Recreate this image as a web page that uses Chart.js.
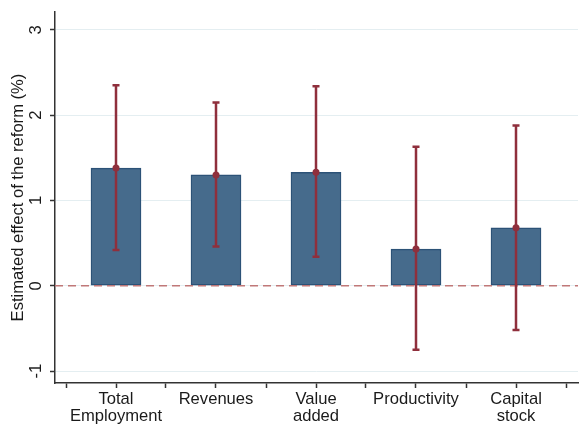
<!DOCTYPE html>
<html>
<head>
<meta charset="utf-8">
<script src="https://cdn.jsdelivr.net/npm/chart.js@4.4.0/dist/chart.umd.min.js"></script>
<style>
  html, body { margin: 0; padding: 0; background: #fff; }
  #wrap { width: 582px; height: 428px; }
</style>
</head>
<body>
<div id="wrap"><canvas id="chart" width="582" height="428"></canvas></div>
<script>
// categorias e valores
const categories = [['Total', 'Employment'], 'Revenues', ['Value', 'added'], 'Productivity', ['Capital', 'stock']];
const estimates = [1.38, 1.30, 1.33, 0.43, 0.68];
const lower = [0.42, 0.46, 0.34, -0.75, -0.52];
const upper = [2.35, 2.15, 2.34, 1.63, 1.88];
const yTicks = [-1, 0, 1, 2, 3];

const FONT = '"Liberation Sans", Arial, sans-serif';
const FONT_SIZE = 16.6;
const barColor = '#466b8c';
const barBorder = '#2c5277';
const ciColor = '#8f2f3c';

const positions = categories.map(function (c, i) { return i + 1; });

// linha zero tracejada + barras de erro (desenhadas depois das barras)
const errorBars = {
  id: 'errorBars',
  afterDatasetDraw: function (chart, args) {
    if (args.index !== 0) return;
    const ctx = chart.ctx;
    const x = chart.scales.x;
    const y = chart.scales.y;
    const area = chart.chartArea;

    ctx.save();
    ctx.strokeStyle = '#c07878';
    ctx.lineWidth = 1.5;
    ctx.setLineDash([8, 5]);
    ctx.beginPath();
    ctx.moveTo(area.left, y.getPixelForValue(0));
    ctx.lineTo(area.right, y.getPixelForValue(0));
    ctx.stroke();
    ctx.setLineDash([]);

    ctx.strokeStyle = ciColor;
    ctx.lineWidth = 2.5;
    for (let i = 0; i < positions.length; i++) {
      const px = x.getPixelForValue(positions[i]);
      const top = y.getPixelForValue(upper[i]);
      const bot = y.getPixelForValue(lower[i]);
      ctx.beginPath();
      ctx.moveTo(px, top);
      ctx.lineTo(px, bot);
      ctx.moveTo(px - 3.5, top);
      ctx.lineTo(px + 3.5, top);
      ctx.moveTo(px - 3.5, bot);
      ctx.lineTo(px + 3.5, bot);
      ctx.stroke();
    }
    ctx.restore();
  },
  afterDraw: function (chart) {
    // rotulos do eixo y rodados, estilo Stata
    const ctx = chart.ctx;
    const y = chart.scales.y;
    ctx.save();
    ctx.font = FONT_SIZE + 'px ' + FONT;
    ctx.fillStyle = '#1a1a1a';
    ctx.textAlign = 'center';
    ctx.textBaseline = 'middle';
    yTicks.forEach(function (v) {
      ctx.save();
      ctx.translate(36, y.getPixelForValue(v));
      ctx.rotate(-Math.PI / 2);
      ctx.fillText(String(v), 0, 0);
      ctx.restore();
    });
    ctx.restore();
  }
};

const ctx = document.getElementById('chart').getContext('2d');
const myChart = new Chart(ctx, {
  type: 'bar',
  data: {
    datasets: [{
      type: 'bar',
      data: positions.map(function (p, i) { return { x: p, y: estimates[i] }; }),
      backgroundColor: barColor,
      borderColor: barBorder,
      borderWidth: 1.5,
      borderSkipped: false,
      barThickness: 50,
      order: 1
    }, {
      type: 'line',
      data: positions.map(function (p, i) { return { x: p, y: estimates[i] }; }),
      showLine: false,
      pointRadius: 3.5,
      pointBackgroundColor: ciColor,
      pointBorderColor: ciColor,
      pointBorderWidth: 0,
      order: 0
    }]
  },
  options: {
    responsive: false,
    devicePixelRatio: 1,
    animation: false,
    layout: { padding: { top: 12, right: 0, left: 0, bottom: 0 } },
    plugins: { legend: { display: false }, tooltip: { enabled: false } },
    scales: {
      x: {
        type: 'linear',
        offset: false,
        min: 0.39,
        max: 5.62,
        afterFit: function (s) { s.height = 45; },
        border: { color: '#333', width: 1.5 },
        grid: { offset: false, drawOnChartArea: false, tickColor: '#333', tickLength: 5, tickWidth: 1.5 },
        ticks: {
          stepSize: 0.5,
          includeBounds: false,
          autoSkip: false,
          maxRotation: 0,
          padding: 2,
          color: '#1a1a1a',
          font: { family: FONT, size: FONT_SIZE, lineHeight: 1.08 },
          callback: function (v) {
            if (Math.abs(v - Math.round(v)) < 1e-6 && v >= 1 && v <= categories.length) return categories[Math.round(v) - 1];
            return '';
          }
        }
      },
      y: {
        min: -1.14,
        max: 3.21,
        afterFit: function (s) { s.width = 55; },
        border: { color: '#333', width: 1.5 },
        grid: { color: '#e4eef1', lineWidth: 1, tickColor: '#333', tickLength: 5, tickWidth: 1.5 },
        ticks: { stepSize: 1, includeBounds: false, display: false },
        afterBuildTicks: function (s) { s.ticks = yTicks.map(function (v) { return { value: v }; }); },
        title: {
          display: true,
          text: 'Estimated effect of the reform (%)',
          color: '#1a1a1a',
          font: { family: FONT, size: FONT_SIZE },
          padding: { top: 8, bottom: 0 }
        }
      }
    }
  },
  plugins: [errorBars]
});
</script>
</body>
</html>
